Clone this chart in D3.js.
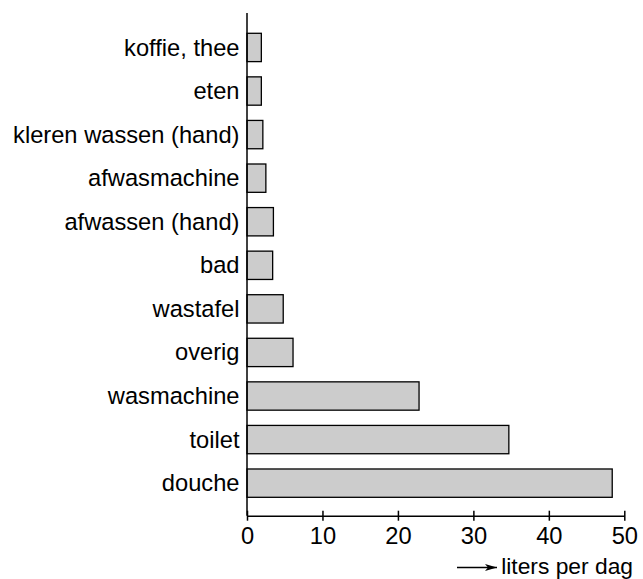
<!DOCTYPE html>
<html lang="nl">
<head>
<meta charset="UTF-8">
<title>Waterverbruik per dag</title>
<script src="https://d3js.org/d3.v7.min.js"></script>
<style>
    body {
    margin: 0;
    background-color: white;
    }
    text {
    font-family: "Liberation Sans", Arial, sans-serif;
    fill: black;
    }
    .bar {
    fill: #cccccc;
    stroke: black;
    stroke-width: 1.3px;
    }
    .axis path, .axis line {
    stroke: black;
    stroke-width: 1.5px;
    }
</style>
</head>
<body>
<svg id="chart" width="643" height="579"></svg>
<script>
    const width = 643;
    const height = 579;

    const categories = ["koffie, thee", "eten", "kleren wassen (hand)", "afwasmachine", "afwassen (hand)",
                        "bad", "wastafel", "overig", "wasmachine", "toilet", "douche"];
    const litersPerDay = [1.9, 1.9, 2.1, 2.5, 3.5, 3.4, 4.8, 6.1, 22.8, 34.7, 48.4];
    const xTicks = [0, 10, 20, 30, 40, 50];
    const axisLabel = "liters per dag";

    const fontSize = "23.7px";

    const svg = d3.select("#chart")
                .attr("width", width)
                .attr("height", height);

    const x = d3.scaleLinear()
                .domain([0, 50])
                .range([247, 624.3]);

    const y = d3.scaleBand()
                .domain(categories)
                .range([22.4, 508.2])
                .paddingInner(0.35)
                .paddingOuter(0.25);

    const axisY = 515.7;

    // bars
    svg.selectAll(".bar")
    .data(categories)
    .enter()
    .append("rect")
    .attr("class", "bar")
    .attr("x", x(0))
    .attr("y", d => y(d))
    .attr("width", (d, i) => x(litersPerDay[i]) - x(0))
    .attr("height", y.bandwidth());

    // category labels
    svg.selectAll(".cat")
    .data(categories)
    .enter()
    .append("text")
    .attr("class", "cat")
    .attr("x", x(0) - 7.5)
    .attr("y", d => y(d) + y.bandwidth() / 2)
    .attr("dy", "0.34em")
    .attr("text-anchor", "end")
    .style("font-size", fontSize)
    .text(d => d);

    // vertical axis line
    svg.append("line")
    .attr("x1", x(0))
    .attr("x2", x(0))
    .attr("y1", 13)
    .attr("y2", axisY)
    .attr("stroke", "black")
    .attr("stroke-width", 1.5);

    // x axis
    const gx = svg.append("g")
    .attr("class", "axis")
    .attr("transform", `translate(0,${axisY})`)
    .call(d3.axisBottom(x).tickValues(xTicks).tickSize(5).tickSizeOuter(0).tickPadding(6));

    gx.selectAll(".tick line").attr("y1", -5).attr("y2", 5);
    gx.selectAll(".tick text")
    .style("font-size", fontSize)
    .style("font-family", "'Liberation Sans', Arial, sans-serif")
    .attr("fill", "black");

    // axis title with arrow
    svg.append("defs").append("marker")
    .attr("id", "arrow")
    .attr("viewBox", "0 0 12 7")
    .attr("refX", 12)
    .attr("refY", 3.5)
    .attr("markerWidth", 12)
    .attr("markerHeight", 7)
    .attr("markerUnits", "userSpaceOnUse")
    .attr("orient", "auto")
    .append("path")
    .attr("d", "M0,0 L12,3.5 L0,7 L3,3.5 Z")
    .attr("fill", "black");

    svg.append("line")
    .attr("x1", 457)
    .attr("x2", 497)
    .attr("y1", 567.5)
    .attr("y2", 567.5)
    .attr("stroke", "black")
    .attr("stroke-width", 1.3)
    .attr("marker-end", "url(#arrow)");

    svg.append("text")
    .attr("x", 633)
    .attr("y", 574)
    .attr("text-anchor", "end")
    .style("font-size", "22.8px")
    .text(axisLabel);
</script>
</body>
</html>
